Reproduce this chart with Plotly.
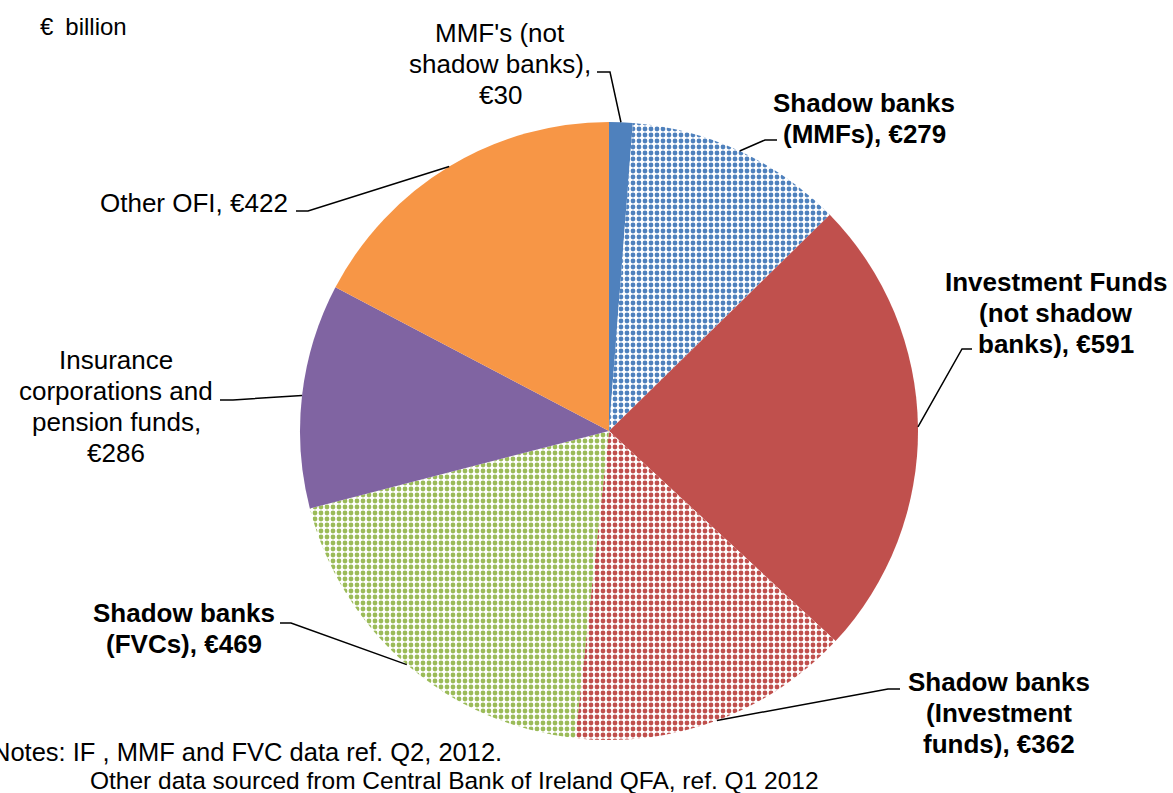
import math
import plotly.graph_objects as go

# Irish non-bank financial sector, € billion
categories = [
    "MMF's (not shadow banks)",
    "Shadow banks (MMFs)",
    "Investment Funds (not shadow banks)",
    "Shadow banks (Investment funds)",
    "Shadow banks (FVCs)",
    "Insurance corporations and pension funds",
    "Other OFI",
]
values = [30, 279, 591, 362, 469, 286, 422]
shadow = [False, True, False, True, True, False, False]
slice_colors = ["#4F81BD", "#4F81BD", "#C0504D", "#C0504D", "#9BBB59", "#8064A2", "#F79646"]

# Label text, line by line ({v} is replaced by the slice value)
label_lines = [
    ["MMF's (not", "shadow banks),", "€{v}"],
    ["Shadow banks", "(MMFs), €{v}"],
    ["Investment Funds", "(not shadow", "banks), €{v}"],
    ["Shadow banks", "(Investment", "funds), €{v}"],
    ["Shadow banks", "(FVCs), €{v}"],
    ["Insurance", "corporations and", "pension funds,", "€{v}"],
    ["Other OFI, €{v}"],
]

W, H = 1173, 793
CX, CY, R = 609, 431, 309  # pie centre and radius in pixels
LINE_H = 31

# label block placement: (centre x, first line y) in pixels
label_pos = [(500, 33), (864, 103), (1056, 282), (999, 682), (184, 613), (116, 360), (194, 203)]
# leader line: label end point, elbow point (pixels)
leader = [
    ((597, 72), (610, 72)),
    ((777, 140), (765, 140)),
    ((972, 349), (962, 349)),
    ((900, 689), (888, 689)),
    ((280, 623), (291, 623)),
    ((220, 400), (233, 400)),
    ((296, 211), (308, 211)),
]


def px(x):
    return x / W


def py(y):
    return 1 - y / H


fig = go.Figure(
    go.Pie(
        labels=categories,
        values=values,
        sort=False,
        direction="clockwise",
        rotation=0,
        textinfo="none",
        hoverinfo="label+value",
        showlegend=False,
        domain=dict(x=[px(CX - R), px(CX + R)], y=[py(CY + R), py(CY - R)]),
        marker=dict(
            colors=slice_colors,
            line=dict(width=0),
            pattern=dict(
                shape=["." if s else "" for s in shadow],
                fgcolor=slice_colors,
                bgcolor=["#FFFFFF" if s else c for s, c in zip(shadow, slice_colors)],
                fgopacity=1,
                size=6,
                solidity=0.5,
                fillmode="replace",
            ),
        ),
    )
)

total = sum(values)
annotations = []
shapes = []
cum = 0
for i, v in enumerate(values):
    mid = (cum + v / 2) / total * 2 * math.pi
    cum += v
    ax = CX + R * math.sin(mid)
    ay = CY - R * math.cos(mid)
    (x0, y0), (x1, y1) = leader[i]
    shapes.append(dict(
        type="path", xref="paper", yref="paper",
        path=f"M{px(x0)},{py(y0)} L{px(x1)},{py(y1)} L{px(ax)},{py(ay)}",
        line=dict(color="black", width=1.5),
    ))
    cxl, cyl = label_pos[i]
    bold = shadow[i] or i == 2
    for j, line in enumerate(label_lines[i]):
        txt = line.format(v=v)
        if bold:
            txt = f"<b>{txt}</b>"
        annotations.append(dict(
            x=px(cxl), y=py(cyl + j * LINE_H), xref="paper", yref="paper",
            text=txt, showarrow=False, xanchor="center", yanchor="middle",
            font=dict(family="Liberation Sans, Arial", size=26, color="black"),
        ))

annotations.append(dict(
    x=px(38), y=py(27), xref="paper", yref="paper", text="€\u2002billion",
    showarrow=False, xanchor="left", yanchor="middle",
    font=dict(family="Liberation Sans, Arial", size=24, color="black"),
))
annotations.append(dict(
    x=px(-10), y=py(752), xref="paper", yref="paper",
    text="Notes: IF , MMF and FVC data ref. Q2, 2012.",
    showarrow=False, xanchor="left", yanchor="middle",
    font=dict(family="Liberation Sans, Arial", size=25.5, color="black"),
))
annotations.append(dict(
    x=px(88), y=py(780), xref="paper", yref="paper",
    text="Other data sourced from Central Bank of Ireland QFA, ref. Q1 2012",
    showarrow=False, xanchor="left", yanchor="middle",
    font=dict(family="Liberation Sans, Arial", size=24.5, color="black"),
))

fig.update_layout(
    width=W, height=H,
    margin=dict(l=0, r=0, t=0, b=0),
    paper_bgcolor="white", plot_bgcolor="white",
    annotations=annotations, shapes=shapes,
)

fig.write_html("out.html")
